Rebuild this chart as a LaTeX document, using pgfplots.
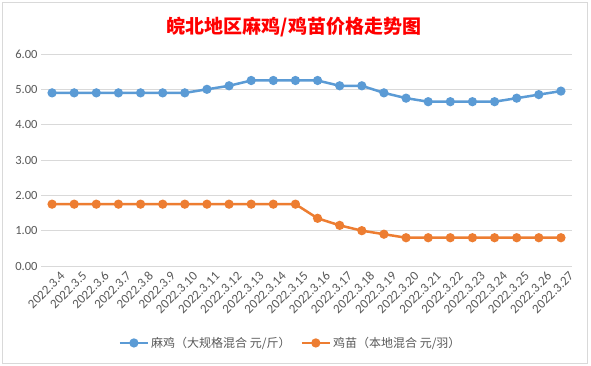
\documentclass[border=0pt]{standalone}
\usepackage{pgfplots}
\pgfplotsset{compat=1.18}
\usepackage{fontspec}
\setmainfont{Carlito}
\newfontfamily\cjk{Noto Sans CJK SC}
\definecolor{cblue}{HTML}{5B9BD5}
\definecolor{corange}{HTML}{ED7D31}
\definecolor{tickgray}{HTML}{595959}
\definecolor{gridgray}{HTML}{D9D9D9}
\begin{document}
\begin{tikzpicture}
\path[fill=white] (0,0) rectangle (591pt,366pt);
\draw[color=gridgray, line width=0.8pt] (2.5pt,3pt) rectangle (587pt,363.5pt);
\node[text=red, font=\cjk\bfseries\fontsize{19}{22}\selectfont] at (294pt,338.5pt) {皖北地区麻鸡/鸡苗价格走势图};
\begin{axis}[
  at={(41pt,100pt)}, anchor=south west,
  scale only axis, width=531pt, height=212pt,
  xmin=-0.5, xmax=23.5, ymin=0, ymax=6,
  ytick={0,1,2,3,4,5,6},
  /pgf/number format/fixed, /pgf/number format/fixed zerofill, /pgf/number format/precision=2, /pgf/number format/assume math mode=true,
  xtick={0,...,23},
  xticklabels={2022.3.4,2022.3.5,2022.3.6,2022.3.7,2022.3.8,2022.3.9,2022.3.10,2022.3.11,2022.3.12,2022.3.13,2022.3.14,2022.3.15,2022.3.16,2022.3.17,2022.3.18,2022.3.19,2022.3.20,2022.3.21,2022.3.22,2022.3.23,2022.3.24,2022.3.25,2022.3.26,2022.3.27},
  xticklabel style={rotate=45, anchor=east, font=\fontsize{13}{15}\selectfont, text=tickgray, inner sep=1pt, xshift=3pt, yshift=-13pt},
  yticklabel style={font=\fontsize{12.5}{14}\selectfont, text=tickgray},
  axis line style={draw=none},
  major tick length=0pt,
  ymajorgrids, grid style={gridgray, line width=0.8pt},
  legend style={at={(0.47,-0.363)}, anchor=center, draw=none, fill=none,
    font=\cjk\fontsize{12}{14}\selectfont, text=tickgray,
    legend columns=2, /tikz/every even column/.append style={column sep=8pt}},
  legend image code/.code={\draw[mark repeat=2,mark phase=2,#1] plot coordinates {(0pt,0pt)(14pt,0pt)(28pt,0pt)};},
]
\addplot[color=cblue, line width=2.5pt, mark=*, mark size=3.3pt, mark options={solid}] coordinates {
(0,4.9)(1,4.9)(2,4.9)(3,4.9)(4,4.9)(5,4.9)(6,4.9)(7,5.0)(8,5.1)(9,5.25)(10,5.25)(11,5.25)(12,5.25)(13,5.1)(14,5.1)(15,4.9)(16,4.75)(17,4.65)(18,4.65)(19,4.65)(20,4.65)(21,4.75)(22,4.85)(23,4.95)};
\addlegendentry{麻鸡（大规格混合 元/斤）}
\addplot[color=corange, line width=2.5pt, mark=*, mark size=3.3pt, mark options={solid}] coordinates {
(0,1.75)(1,1.75)(2,1.75)(3,1.75)(4,1.75)(5,1.75)(6,1.75)(7,1.75)(8,1.75)(9,1.75)(10,1.75)(11,1.75)(12,1.35)(13,1.15)(14,1.0)(15,0.9)(16,0.8)(17,0.8)(18,0.8)(19,0.8)(20,0.8)(21,0.8)(22,0.8)(23,0.8)};
\addlegendentry{鸡苗（本地混合 元/羽）}
\end{axis}
\end{tikzpicture}
\end{document}
